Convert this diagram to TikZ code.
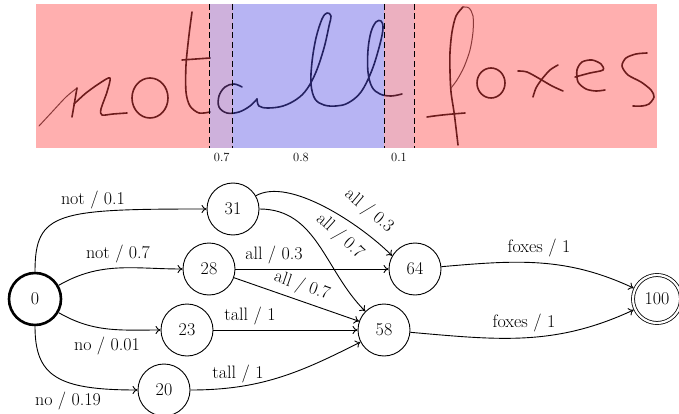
\documentclass[tikz,border=0pt]{standalone}
\usetikzlibrary{arrows.meta}
\definecolor{inkc}{RGB}{40,40,40}
\definecolor{ovred}{RGB}{255,5,5}
\definecolor{ovblue}{RGB}{30,21,218}
\definecolor{ovpurple}{RGB}{102,14,146}
\definecolor{ovpink}{RGB}{196,8,58}
\begin{document}
\begin{tikzpicture}[x=1pt,y=1pt,
  ink/.style={draw=inkc, line width=1.6pt, line cap=round, line join=round},
  thinink/.style={draw=inkc!80, line width=1.0pt, line cap=round, line join=round},
  tintbox/.style={fill opacity=0.32},
  sepline/.style={draw=black, line width=0.9pt, dash pattern=on 6pt off 3.5pt},
  wlabel/.style={font=\fontsize{12.5}{14}\selectfont, anchor=base, inner sep=0pt},
  state/.style={circle, draw, line width=0.9pt, minimum size=52pt, inner sep=0pt, font=\fontsize{18}{21}\selectfont},
  initstate/.style={state, line width=2.6pt},
  finalstate/.style={state, minimum size=48pt, double, double distance=2.2pt, line width=0.8pt},
  elabel/.style={font=\fontsize{18}{21}\selectfont, anchor=base, inner sep=0pt},
  slabel/.style={font=\fontsize{18}{21}\selectfont, inner sep=0pt},
  trans/.style={draw, line width=0.9pt, -{To[length=5pt,width=8pt]}},
]
\useasboundingbox (0,0) rectangle (679,-414);

% ---------- handwriting ----------
% n
\draw[thinink] plot[smooth,tension=.5] coordinates {(39,-126) (52,-112) (66,-97) (77,-88)};
\draw[ink] (77,-88) -- (72,-117);
\draw[ink] plot[smooth,tension=.5] coordinates {(74,-104) (86,-93) (100,-83) (110,-78) (107,-92) (101,-109) (102,-115) (113,-114) (127,-113)};
% o
\draw[ink] (150,-98) ellipse [x radius=18pt, y radius=20pt];
% t
\draw[ink] plot[smooth] coordinates {(192,-12) (189,-35) (186,-65) (186,-92) (190,-106) (199,-113) (210,-112)};
\draw[ink] (182,-60) -- (210,-58);
% a
\draw[ink] plot[smooth,tension=.6] coordinates {(242,-87) (234,-84) (225,-87) (219,-96) (219,-107) (227,-113) (239,-112) (250,-106) (257,-99)};
% ll
\draw[ink] plot[smooth,tension=.6] coordinates {(257,-99) (259,-106) (268,-108) (283,-106) (297,-99) (307,-89) (316,-72) (324,-48) (329,-26) (331,-16) (327,-13) (322,-19) (316,-38) (312,-62) (311,-84) (315,-99) (324,-105) (336,-106) (348,-103) (361,-92) (372,-70) (380,-44) (383,-28) (381,-21) (376,-22) (371,-32) (368,-50) (368,-72) (372,-87) (380,-94) (391,-96) (402,-94)};
% f
\draw[ink] plot[smooth] coordinates {(463,-7) (456,-16) (452,-32) (450,-52) (450,-72) (451,-92) (454,-112) (456,-128) (458,-145)};
\draw[thinink] plot[smooth] coordinates {(463,-7) (469,-8) (473,-16) (473,-32) (470,-50) (464,-67) (457,-80) (451,-88)};
\draw[ink] (427,-117) .. controls (440,-115) and (452,-114) .. (465,-113);
% o
\draw[ink] (491,-83) ellipse [x radius=14pt, y radius=15pt];
% x
\draw[ink] plot[smooth] coordinates {(518,-71) (527,-72) (540,-79) (552,-86) (563,-91)};
\draw[ink] plot[smooth] coordinates {(558,-65) (550,-70) (542,-79) (536,-88) (533,-97)};
% e
\draw[ink] plot[smooth] coordinates {(575,-77) (590,-73) (603,-70) (601,-64) (592,-60) (582,-62) (577,-70) (578,-82) (586,-89) (596,-91) (605,-90)};
% s
\draw[ink] plot[smooth] coordinates {(647,-53) (636,-54) (626,-58) (622,-66) (628,-75) (641,-82) (651,-90) (654,-97) (649,-104) (642,-106) (633,-106)};

% ---------- tinted segments ----------
\fill[ovred, tintbox] (36,-4) rectangle (209.5,-148);
\fill[ovpurple, tintbox] (209.5,-4) rectangle (232.7,-148);
\fill[ovblue, tintbox] (232.7,-4) rectangle (384.3,-148);
\fill[ovpink, tintbox] (384.3,-4) rectangle (414.3,-148);
\fill[ovred, tintbox] (414.3,-4) rectangle (657,-148);
\draw[sepline] (209.5,-4) -- (209.5,-148);
\draw[sepline] (232.7,-4) -- (232.7,-148);
\draw[sepline] (384.3,-4) -- (384.3,-148);
\draw[sepline] (414.3,-4) -- (414.3,-148);
\node[wlabel] (w1) at (221.7,-161) {0.7};
\node[wlabel] (w2) at (301,-161) {0.8};
\node[wlabel] (w3) at (399,-161) {0.1};

% ---------- automaton ----------
\node[initstate] (n0) at (35,-299) {0};
\node[state] (n31) at (233,-209) {31};
\node[state] (n28) at (209,-269) {28};
\node[state] (n23) at (187,-330) {23};
\node[state] (n20) at (164,-390) {20};
\node[state] (n64) at (415,-269) {64};
\node[state] (n58) at (384,-330) {58};
\node[finalstate] (n100) at (657,-299) {100};

\draw[trans] (n0) to[out=90,in=180,out distance=60pt,in distance=150pt] (n31);
\draw[trans] (n0) to[out=30,in=180] (n28);
\draw[trans] (n0) to[out=-30,in=180] (n23);
\draw[trans] (n0) to[out=-90,in=180,out distance=50pt,in distance=80pt] (n20);
\draw[trans] (n31.30) .. controls +(30:38pt) and +(135:45pt) .. (n64.150);
\draw[trans] (n31) to[out=0,in=135] (n58);
\draw[trans] (n28) -- (n64);
\draw[trans] (n28) -- (n58);
\draw[trans] (n23) -- (n58);
\draw[trans] (n20) to[out=0,in=207] (n58);
\draw[trans, shorten >=1.4pt] (n64) to[out=5,in=155] (n100);
\draw[trans, shorten >=1.4pt] (n58) to[out=-5,in=205] (n100);

\node[elabel] (l1) at (93,-204) {not / 0.1};
\node[elabel] (l2) at (118,-258) {not / 0.7};
\node[elabel] (l3) at (107,-350) {no / 0.01};
\node[elabel] (l4) at (68,-405) {no / 0.19};
\node[elabel] (l5) at (274,-259) {all / 0.3};
\node[elabel] (l6) at (250,-320.5) {tall / 1};
\node[elabel] (l7) at (238,-378) {tall / 1};
\node[elabel] (l8) at (539,-252.5) {foxes / 1};
\node[elabel] (l9) at (524,-327.5) {foxes / 1};
\node[slabel, rotate=-19] (l10) at (302,-286) {all / 0.7};
\node[slabel, rotate=-42] (l11) at (340,-236) {all / 0.7};
\node[slabel, rotate=-40] (l12) at (369,-211) {all / 0.3};
\end{tikzpicture}
\end{document}
